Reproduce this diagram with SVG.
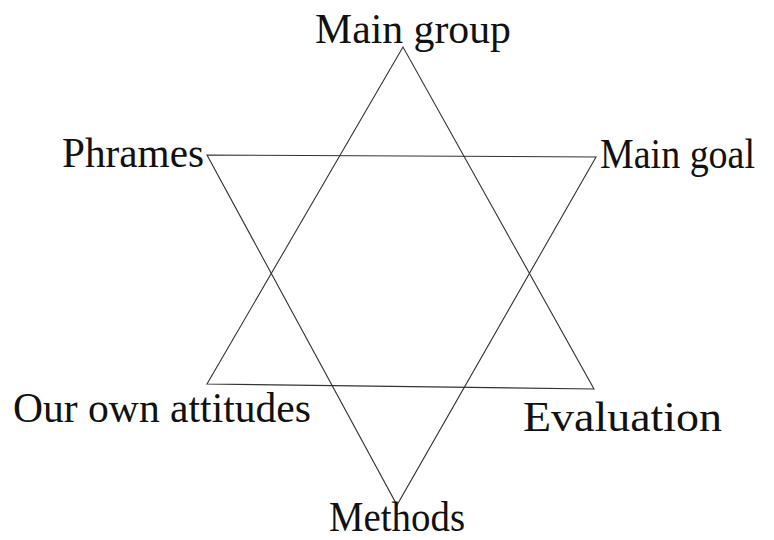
<svg xmlns="http://www.w3.org/2000/svg" width="774" height="540" viewBox="0 0 774 540">
<style>
.lbl{font-family:"Liberation Serif","Times New Roman",serif;font-size:42px;fill:#111}
.edge{fill:none;stroke:#333;stroke-width:1.1;stroke-linejoin:miter}
</style>
<rect width="774" height="540" fill="#fff"/>
<g id="connectors">
<polygon class="edge" points="403,47 207,384 594,389"/>
<polygon class="edge" points="207,155 596,157 397,505"/>
</g>
<g id="main-group"><text class="lbl" x="315" y="43" textLength="196" lengthAdjust="spacingAndGlyphs">Main group</text></g>
<g id="phrames"><text class="lbl" x="62" y="167" textLength="142" lengthAdjust="spacingAndGlyphs">Phrames</text></g>
<g id="main-goal"><text class="lbl" x="600" y="168" textLength="155" lengthAdjust="spacingAndGlyphs">Main goal</text></g>
<g id="our-own-attitudes"><text class="lbl" x="13" y="422" textLength="298" lengthAdjust="spacingAndGlyphs">Our own attitudes</text></g>
<g id="evaluation"><text class="lbl" x="523" y="431" textLength="199" lengthAdjust="spacingAndGlyphs">Evaluation</text></g>
<g id="methods"><text class="lbl" x="329" y="531" textLength="136" lengthAdjust="spacingAndGlyphs">Methods</text></g>
</svg>
